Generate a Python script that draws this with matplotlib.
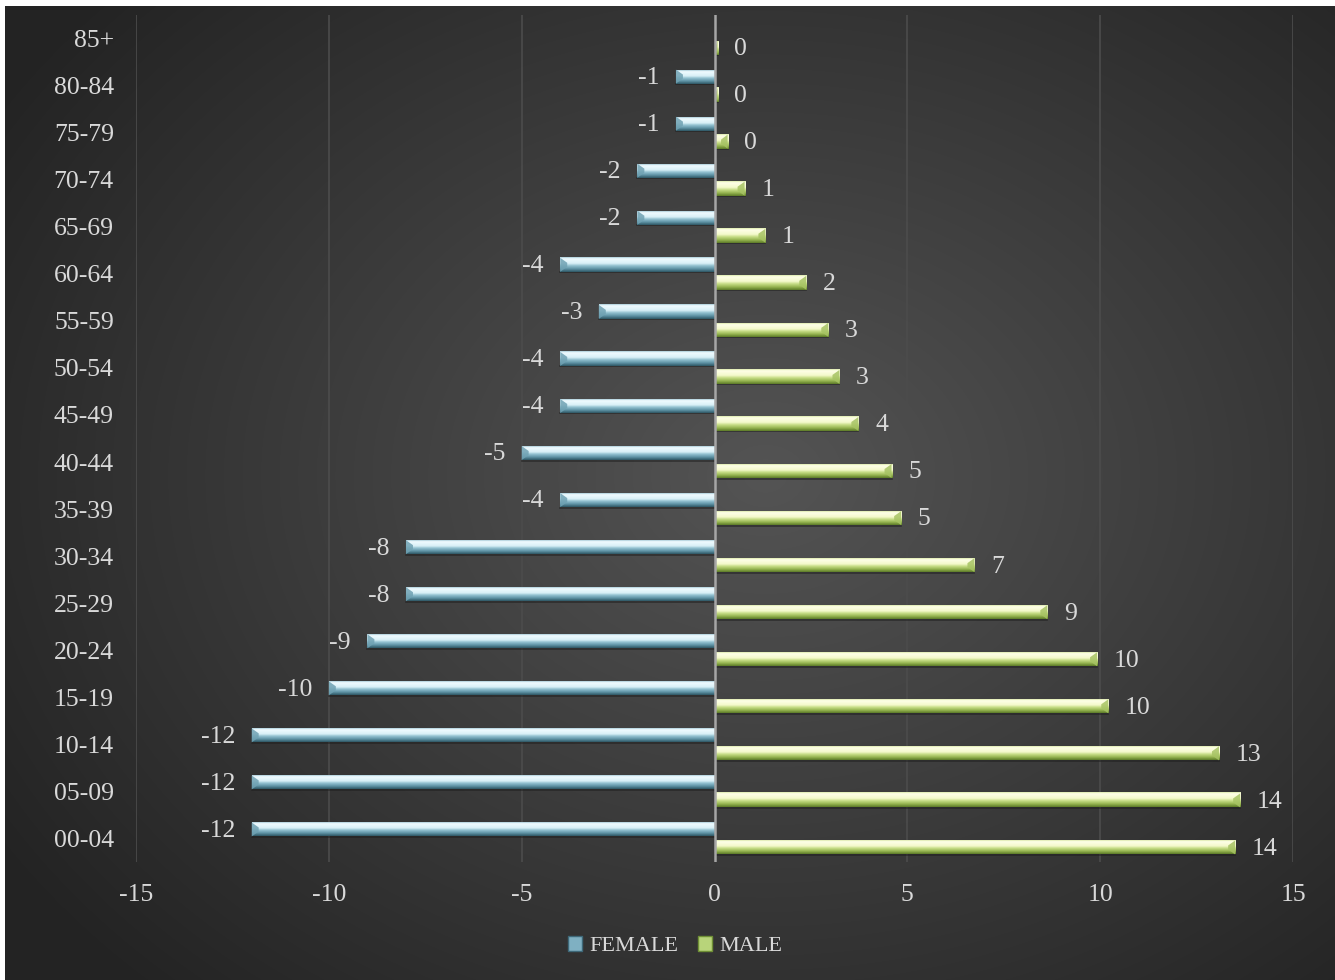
import matplotlib
matplotlib.use('Agg')
import matplotlib.pyplot as plt
from matplotlib.colors import LinearSegmentedColormap
from matplotlib.patches import Polygon, Patch
import numpy as np

AGE_GROUPS = ["00-04", "05-09", "10-14", "15-19", "20-24", "25-29", "30-34",
              "35-39", "40-44", "45-49", "50-54", "55-59", "60-64", "65-69",
              "70-74", "75-79", "80-84", "85+"]
FEMALE = [-12, -12, -12, -10, -9, -8, -8, -4, -5, -4, -4, -3, -4, -2, -2,
          -1, -1, None]
MALE = [13.5, 13.63, 13.08, 10.21, 9.92, 8.63, 6.74, 4.84, 4.59, 3.73, 3.24,
        2.95, 2.38, 1.32, 0.78, 0.34, 0.08, 0.08]
X_TICKS = [-15, -10, -5, 0, 5, 10, 15]

FONT = "Liberation Serif"
FS = 18.5
TEXT_COLOR = "#d9d9d9"
W, H = 1335, 980

female_cmap = LinearSegmentedColormap.from_list("female", [
    (0.0, "#a6cad7"), (0.1, "#f0fbff"), (0.42, "#d9f0f7"),
    (0.58, "#92c1d0"), (0.8, "#5d91a3"), (1.0, "#2e5664")])
male_cmap = LinearSegmentedColormap.from_list("male", [
    (0.0, "#dbe9aa"), (0.1, "#feffe8"), (0.42, "#f4f9cc"),
    (0.58, "#c8de88"), (0.8, "#95b450"), (1.0, "#5c7a28")])

fig = plt.figure(figsize=(W / 100, H / 100), dpi=100, facecolor="white")

# dark radial backdrop
bg = fig.add_axes([5 / W, 0, 1 - 5 / W, 974 / H])
yy, xx = np.mgrid[0:974, 0:1330]
r = np.hypot((xx - 760) / 900.0, (yy - 470) / 700.0)
shade = np.clip(0.33 - 0.19 * r, 0.14, 0.33)
bg.imshow(np.dstack([shade] * 3), aspect="auto", interpolation="bilinear")
bg.axis("off")

ax_left, ax_right, ax_top, ax_bottom = 136, 1293, 15, 862
ax = fig.add_axes([ax_left / W, (H - ax_bottom) / H,
                   (ax_right - ax_left) / W, (ax_bottom - ax_top) / H])
ax.set_facecolor("none")
for s in ax.spines.values():
    s.set_visible(False)

px_x = (ax_right - ax_left) / 30.0
px_y = (ax_bottom - ax_top) / 18.0
bar_h = 14 / px_y
offset = 9 / px_y


def bevel_bar(x0, x1, yc, cmap, zorder=3):
    left, right = min(x0, x1), max(x0, x1)
    if right - left <= 0:
        return
    grad = np.linspace(0, 1, 64).reshape(-1, 1)
    ax.imshow(grad, cmap=cmap, aspect="auto", interpolation="bilinear",
              extent=(left, right, yc - bar_h / 2, yc + bar_h / 2),
              zorder=zorder)
    # bevelled end cap on the outer side
    bx = min(7 / px_x, (right - left) / 2)
    by = 5 / px_y
    top, bot = yc + bar_h / 2, yc - bar_h / 2
    end = x1
    inner = x1 - bx if x1 > x0 else x1 + bx
    ax.add_patch(Polygon([(end, top), (inner, top - by), (inner, bot + by),
                          (end, bot)], closed=True, facecolor=cmap(0.72),
                         edgecolor="none", alpha=0.85, zorder=zorder + 0.1))
    # shadow under the bar
    ax.plot([left, right], [bot - 0.5 / px_y, bot - 0.5 / px_y],
            color="#1e1e1e", lw=1.2, alpha=0.6, zorder=zorder - 0.1)


y = np.arange(len(AGE_GROUPS))
for i, (f, m) in enumerate(zip(FEMALE, MALE)):
    if f is not None:
        bevel_bar(0, f, y[i] + offset, female_cmap)
        ax.annotate("%.0f" % f, (f, y[i] + offset), xytext=(-12, -1),
                    textcoords="offset points", ha="right", va="center",
                    fontsize=FS, color=TEXT_COLOR, family=FONT)
    bevel_bar(0, m, y[i] - offset, male_cmap)
    ax.annotate("%.0f" % m, (m, y[i] - offset), xytext=(12, -1),
                textcoords="offset points", ha="left", va="center",
                fontsize=FS, color=TEXT_COLOR, family=FONT)

for t in X_TICKS:
    if t != 0:
        ax.axvline(t, color="#4c4c4c", lw=1.2, zorder=1)
ax.axvline(0, color="#a6a6a6", lw=1.8, zorder=4)

ax.set_xlim(-15, 15)
ax.set_ylim(-0.5, len(AGE_GROUPS) - 0.5)
ax.set_xticks(X_TICKS)
ax.set_xticklabels([str(t) for t in X_TICKS])
ax.set_yticks(y)
ax.set_yticklabels(AGE_GROUPS)
ax.tick_params(length=0, colors=TEXT_COLOR, labelsize=FS)
ax.tick_params(axis="y", pad=16)
ax.tick_params(axis="x", pad=16)
for lbl in ax.get_xticklabels() + ax.get_yticklabels():
    lbl.set_family(FONT)

handles = [Patch(facecolor="#7fb0c2", edgecolor="#3e6878", label="FEMALE"),
           Patch(facecolor="#b8d47a", edgecolor="#6f8f35", label="MALE")]
fig.legend(handles=handles, loc="center", bbox_to_anchor=(0.5056, (H - 946) / H),
           ncol=2, frameon=False, handlelength=0.65, handleheight=0.65,
           handletextpad=0.3, columnspacing=0.9,
           prop={"family": FONT, "size": 16}, labelcolor=TEXT_COLOR)

fig.savefig("out.png", dpi=100, facecolor="white")
